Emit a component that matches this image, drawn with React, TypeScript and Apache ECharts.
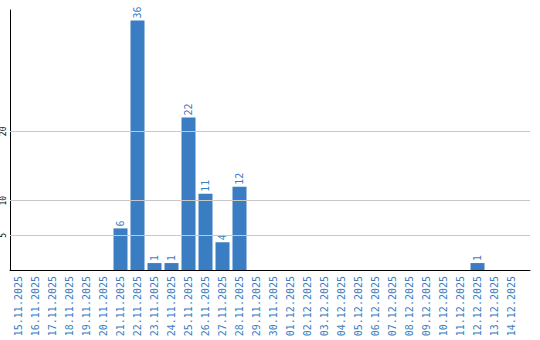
import React, { useEffect, useRef } from "react";
import * as echarts from "echarts";

const categories = [
  "15.11.2025", "16.11.2025", "17.11.2025", "18.11.2025", "19.11.2025", "20.11.2025",
  "21.11.2025", "22.11.2025", "23.11.2025", "24.11.2025", "25.11.2025", "26.11.2025",
  "27.11.2025", "28.11.2025", "29.11.2025", "30.11.2025", "01.12.2025", "02.12.2025",
  "03.12.2025", "04.12.2025", "05.12.2025", "06.12.2025", "07.12.2025", "08.12.2025",
  "09.12.2025", "10.12.2025", "11.12.2025", "12.12.2025", "13.12.2025", "14.12.2025",
];
const values = [0, 0, 0, 0, 0, 0, 6, 36, 1, 1, 22, 11, 4, 12, 0, 0, 0, 0, 0, 0, 0, 0, 0, 0, 0, 0, 0, 1, 0, 0];
const yTickLabels = [5, 10, 20];
const Y_MAX = 37.5;

const BLUE = "#3a7dc2";
const MONO = "'DejaVu Sans Mono', 'Liberation Mono', monospace";

export default function App() {
  const ref = useRef<HTMLDivElement>(null);
  useEffect(() => {
    if (!ref.current) return;
    const chart = echarts.init(ref.current, null, { renderer: "svg" });
    chart.setOption({
      animation: false,
      backgroundColor: "#ffffff",
      grid: [
        { left: 10, top: 10, width: 510, height: 260, outerBoundsMode: "none" },
        { left: 10, top: 10, width: 520, height: 260, outerBoundsMode: "none" },
      ],
      xAxis: [
        {
          type: "category",
          gridIndex: 0,
          data: categories,
          axisLine: { show: false },
          axisTick: { show: false },
          axisLabel: {
            interval: 0,
            rotate: 90,
            color: BLUE,
            fontFamily: MONO,
            fontSize: 10,
            margin: 6,
          },
        },
        {
          type: "value",
          gridIndex: 1,
          min: 0,
          max: 1,
          axisLine: { show: true, onZero: false, lineStyle: { color: "#000", width: 1 } },
          axisTick: { show: false },
          axisLabel: { show: false },
          splitLine: { show: false },
        },
      ],
      yAxis: [
        {
          type: "value",
          gridIndex: 0,
          min: 0,
          max: Y_MAX,
          interval: 5,
          axisLine: { show: true, lineStyle: { color: "#000", width: 1 } },
          axisTick: { show: false },
          splitLine: { show: false },
          axisLabel: {
            rotate: 90,
            color: "#000",
            fontFamily: MONO,
            fontSize: 8,
            margin: 3,
            formatter: (v: number) => (yTickLabels.includes(v) ? String(v) : ""),
          },
        },
        {
          type: "value",
          gridIndex: 1,
          min: 0,
          max: Y_MAX,
          show: false,
        },
      ],
      series: [
        {
          type: "scatter",
          xAxisIndex: 1,
          yAxisIndex: 1,
          data: [],
          silent: true,
          markLine: {
            silent: true,
            symbol: "none",
            label: { show: false },
            lineStyle: { color: "#c8c8c8", type: "solid", width: 1 },
            data: yTickLabels.map((v) => ({ yAxis: v })),
          },
        },
        {
          type: "bar",
          xAxisIndex: 0,
          yAxisIndex: 0,
          data: values,
          barWidth: 14,
          itemStyle: { color: BLUE },
          z: 3,
          label: {
            show: true,
            position: "top",
            rotate: 90,
            align: "left",
            verticalAlign: "middle",
            distance: 2,
            color: BLUE,
            fontFamily: MONO,
            fontSize: 10,
            formatter: (p: any) => (p.value ? String(p.value) : ""),
          },
        },
      ],
    });
    return () => chart.dispose();
  }, []);
  return (
    <div
      ref={ref}
      style={{ position: "fixed", left: 0, top: 0, width: 540, height: 340 }}
    />
  );
}
